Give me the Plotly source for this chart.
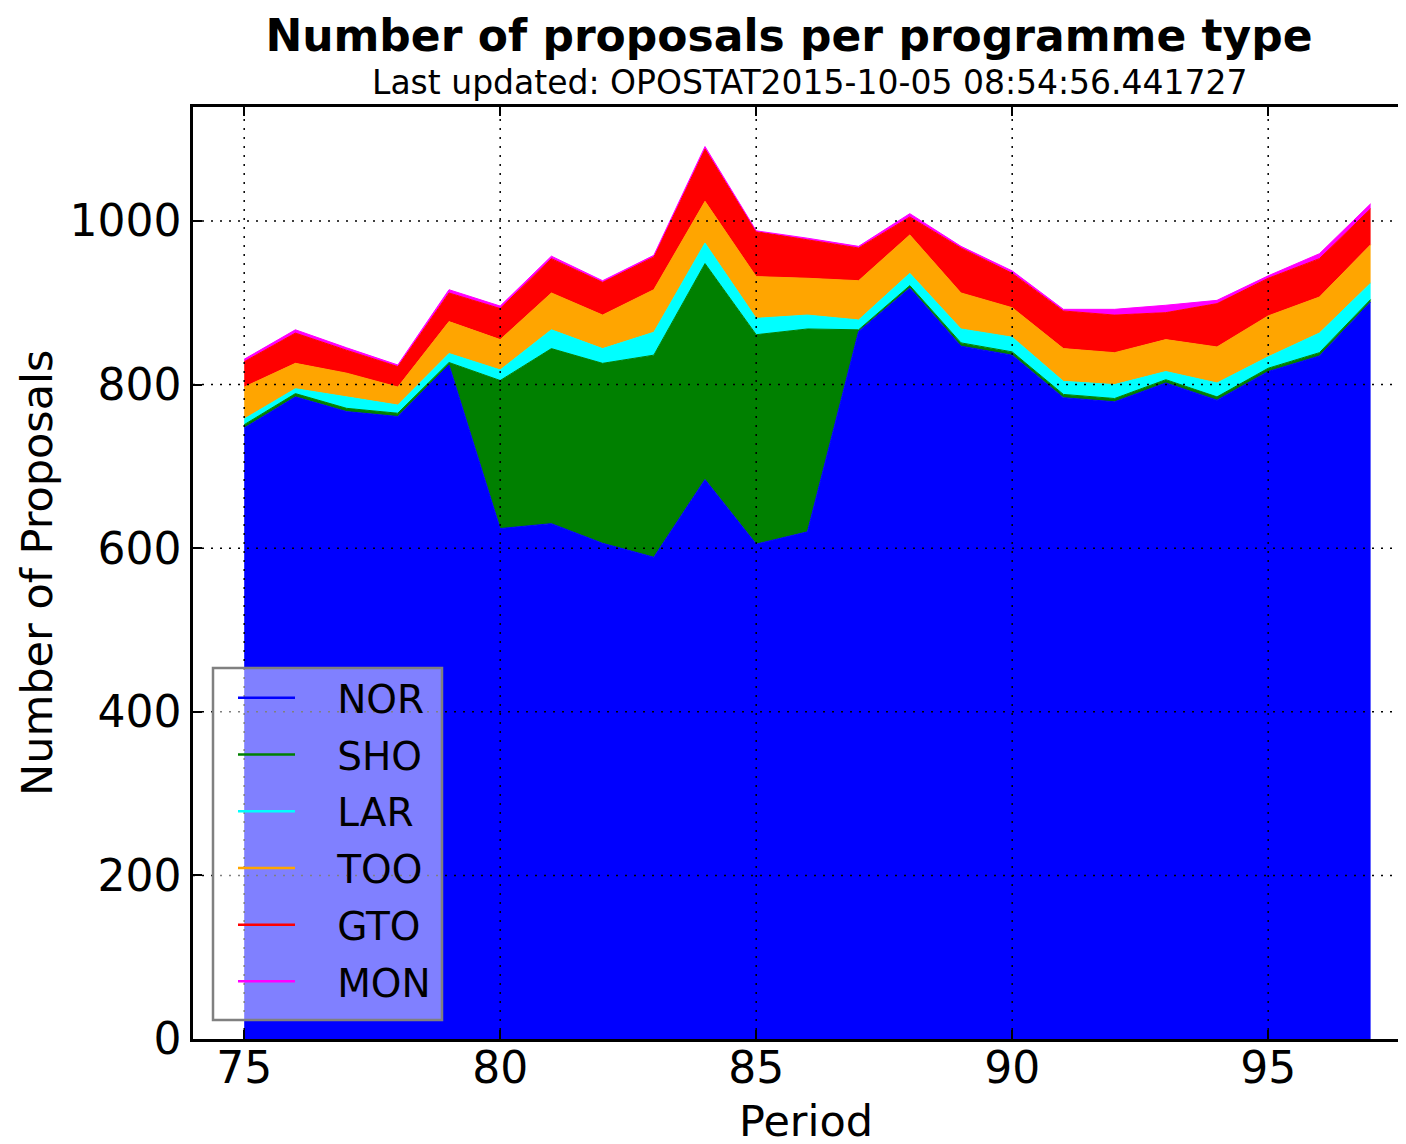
import plotly.graph_objects as go

periods = list(range(75, 98))
NOR = [747, 785, 767, 761, 824, 624, 630, 606, 589, 684, 605, 620, 865, 918, 847, 836, 784, 779, 802, 781, 816, 835, 901]
SHO = [4, 4, 4, 4, 3, 181, 214, 220, 247, 264, 256, 248, 2, 3, 4, 4, 4, 4, 4, 4, 4, 4, 3]
LAR = [7, 6, 14, 10, 11, 13, 23, 18, 28, 25, 20, 17, 12, 15, 17, 18, 16, 17, 10, 17, 14, 24, 20]
TOO = [39, 31, 29, 22, 39, 37, 45, 41, 52, 51, 51, 45, 48, 47, 44, 36, 40, 39, 39, 44, 50, 44, 47]
GTO = [31, 37, 28, 25, 35, 38, 42, 40, 40, 64, 55, 47, 40, 22, 55, 42, 46, 46, 33, 53, 46, 47, 44]
MON = [3, 4, 3, 2, 4, 3, 3, 2, 2, 3, 1, 2, 2, 4, 2, 3, 2, 7, 9, 4, 3, 6, 6]

series = [("NOR", NOR, "#0000ff"), ("SHO", SHO, "#008000"), ("LAR", LAR, "#00ffff"),
          ("TOO", TOO, "#ffa500"), ("GTO", GTO, "#ff0000"), ("MON", MON, "#ff00ff")]

xticks = [75, 80, 85, 90, 95]
yticks = [0, 200, 400, 600, 800, 1000]

FONT = "DejaVu Sans"
# page is offset by the default 8px body margin
OFF = 8
W, H = 1398, 1136
L, T, B = 185, 99, 105
PW, PH = W - L, H - T - B  # 1213 x 932


def px(xw):  # window x -> paper x
    return (xw - OFF - L) / PW


def py(yw):  # window y -> paper y
    return (T + PH - (yw - OFF)) / PH


fig = go.Figure()
for name, vals, col in series:
    fig.add_trace(go.Scatter(x=periods, y=vals, stackgroup="one", mode="lines",
                             line=dict(color=col, width=1), fillcolor=col,
                             name=name, showlegend=False))
for name, vals, col in series:
    fig.add_trace(go.Scatter(x=[None], y=[None], mode="lines",
                             line=dict(color=col, width=2.5),
                             name="\u00a0\u00a0\u00a0" + name, legendgroup=name,
                             showlegend=True))

# dotted grid drawn above the fills (as in the reference)
for xv in xticks:
    fig.add_shape(type="line", xref="x", yref="paper", x0=xv, x1=xv, y0=0, y1=1,
                  line=dict(color="black", width=1.5, dash="2px,7px"), layer="above")
for yv in yticks[1:]:
    fig.add_shape(type="line", xref="paper", yref="y", x0=0, x1=1, y0=yv, y1=yv,
                  line=dict(color="black", width=1.5, dash="2px,7px"), layer="above")
# legend frame (semi-transparent white, grey border)
fig.add_shape(type="rect", xref="paper", yref="paper",
              x0=px(213), x1=px(442), y0=py(1020), y1=py(668),
              fillcolor="rgba(255,255,255,0.5)", line=dict(color="#808080", width=2.5),
              layer="above")

fig.update_layout(
    width=W, height=H,
    margin=dict(l=L, r=0, t=T, b=B),
    paper_bgcolor="white", plot_bgcolor="white",
    font=dict(family=FONT, color="black"),
    title=dict(text="<b>Number of proposals per programme type</b>",
               x=px(789), xref="paper", xanchor="center",
               y=1 - 28 / H, yref="container", yanchor="middle",
               font=dict(size=44, family=FONT, color="black")),
    legend=dict(x=px(233), y=py(666), xanchor="left", yanchor="top",
                traceorder="grouped", tracegroupgap=3,
                bgcolor="rgba(0,0,0,0)", borderwidth=0,
                font=dict(size=39, family=FONT, color="black"), itemwidth=57),
    showlegend=True,
)
fig.add_annotation(text="Last updated: OPOSTAT2015-10-05 08:54:56.441727",
                   xref="paper", yref="paper", x=px(810), y=py(82),
                   xanchor="center", yanchor="middle", showarrow=False,
                   font=dict(size=33, family=FONT, color="black"))
fig.add_annotation(text="Period", xref="paper", yref="paper",
                   x=px(806), y=py(1121),
                   xanchor="center", yanchor="middle", showarrow=False,
                   font=dict(size=43, family=FONT, color="black"))
fig.add_annotation(text="Number of Proposals", xref="paper", yref="paper",
                   x=px(37), y=py(573), textangle=-90,
                   xanchor="center", yanchor="middle", showarrow=False,
                   font=dict(size=43, family=FONT, color="black"))

fig.update_xaxes(range=[74, 74 + PW / 51.2], tickvals=xticks, ticks="inside", ticklen=9,
                 tickwidth=1.5, tickcolor="black", showline=True, linecolor="black",
                 linewidth=2.5, mirror="ticks", showgrid=False, zeroline=False,
                 ticklabelstandoff=-12,
                 tickfont=dict(size=44, family=FONT, color="black"))
fig.update_yaxes(range=[0, PH / 0.818], tickvals=yticks, ticks="inside", ticklen=9,
                 tickwidth=1.5, tickcolor="black", showline=True, linecolor="black",
                 linewidth=2.5, mirror=False, showgrid=False, zeroline=False,
                 tickfont=dict(size=44, family=FONT, color="black"))

fig.write_html("out.html")
